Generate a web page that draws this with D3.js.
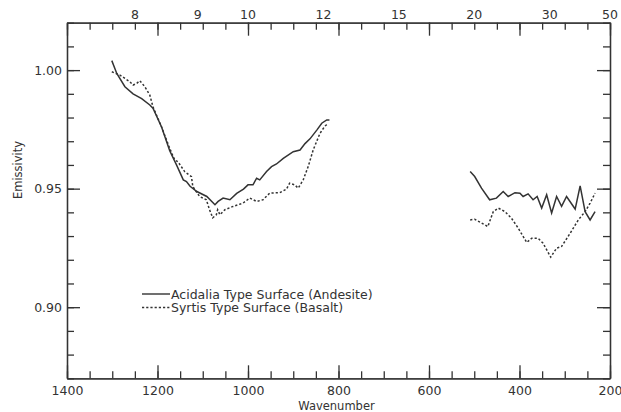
<!DOCTYPE html>
<html>
<head>
  <meta charset="utf-8">
  <title>Emissivity</title>
  <script src="https://d3js.org/d3.v7.min.js"></script>
  <style>
    body { margin: 0; background: #fff; }
    text { font-family: "DejaVu Sans", sans-serif; fill: #333; }
  </style>
</head>
<body>
<script>
const width = 621;
const height = 412;

// Acidalia (solid) - [wavenumber, emissivity]
const acidaliaTir = [[1301,1.004],[1290,0.9986],[1272,0.993],[1254,0.990],[1235,0.988],[1217,0.9853],[1210,0.9839],
  [1191,0.976],[1173,0.966],[1158,0.960],[1143,0.9537],[1136,0.953],[1128,0.951],[1113,0.9488],[1091,0.9467],
  [1073,0.9432],[1066,0.9446],[1055,0.946],[1040,0.9453],[1025,0.948],[1010,0.9498],[1000,0.9516],[989,0.9516],
  [981,0.9544],[974,0.9537],[959,0.9572],[948,0.9593],[937,0.9604],[922,0.9628],[900,0.9656],[885,0.9663],
  [874,0.969],[863,0.971],[848,0.9747],[837,0.9776],[826,0.979],[820,0.979]];
const acidaliaFar = [[509,0.9572],[499,0.9551],[484,0.9502],[466,0.9453],[451,0.946],[436,0.9488],[425,0.9467],
  [410,0.9483],[399,0.9481],[392,0.9467],[381,0.9478],[370,0.9453],[361,0.9467],[351,0.9418],[340,0.9474],
  [329,0.9397],[318,0.9467],[307,0.9425],[296,0.9467],[277,0.9414],[266,0.9512],[255,0.9403],[244,0.9368],[233,0.9403]];

// Syrtis (dotted)
const syrtisTir = [[1301,0.9993],[1283,0.9979],[1261,0.9951],[1254,0.9937],[1246,0.9944],[1239,0.9955],[1228,0.993],
  [1217,0.9895],[1210,0.9845],[1191,0.976],[1173,0.967],[1162,0.9621],[1155,0.9614],[1140,0.9572],[1125,0.9551],
  [1122,0.9509],[1107,0.9467],[1092,0.9453],[1085,0.9411],[1078,0.9377],[1070,0.939],[1067,0.9411],[1062,0.939],
  [1051,0.9411],[1033,0.9425],[1011,0.9439],[996,0.946],[981,0.9446],[967,0.9453],[952,0.9481],[930,0.9483],
  [915,0.9498],[908,0.9523],[897,0.9516],[889,0.9502],[878,0.9537],[867,0.9593],[856,0.9663],[841,0.9733],
  [830,0.9764],[825,0.9771]];
const syrtisFar = [[509,0.9368],[499,0.9371],[484,0.9355],[470,0.934],[458,0.9403],[447,0.9418],[432,0.9403],
  [418,0.9376],[403,0.9334],[384,0.9273],[373,0.9291],[359,0.9291],[348,0.927],[331,0.9211],[318,0.9249],
  [307,0.9256],[288,0.9312],[270,0.9368],[255,0.9403],[244,0.9439],[233,0.9481]];

const wavelengthLabels = [8, 9, 10, 12, 15, 20, 30, 50];
const yLabelTicks = [0.90, 0.95, 1.00];
const legendNames = ['Acidalia Type Surface (Andesite)', 'Syrtis Type Surface (Basalt)'];

const pLeft = 67, pRight = 610, pTop = 22.7, pBottom = 378.3;

const svg = d3.select('body').append('svg')
  .attr('width', width)
  .attr('height', height);

const x = d3.scaleLinear().domain([1400, 200]).range([pLeft, pRight]);
const y = d3.scaleLinear().domain([0.87, 1.02]).range([pBottom, pTop]);

const minorX = d3.range(200, 1401, 50);
const majorX = d3.range(200, 1401, 200);
const minorY = d3.range(87, 103).map(d => d / 100);

function styleAxis(g) {
  g.selectAll('path, line').attr('stroke', '#333').attr('stroke-width', 1.3);
  g.selectAll('text').attr('font-size', 12.5).attr('fill', '#333')
    .attr('font-family', '"DejaVu Sans", sans-serif');
}

// bottom
svg.append('g').attr('transform', `translate(0,${pBottom})`)
  .call(d3.axisBottom(x).tickValues(minorX).tickSize(-7).tickSizeOuter(0).tickFormat(''))
  .call(styleAxis);
svg.append('g').attr('transform', `translate(0,${pBottom})`)
  .call(d3.axisBottom(x).tickValues(majorX).tickSize(-13).tickSizeOuter(0).tickPadding(7.5).tickFormat(d3.format('d')))
  .call(styleAxis);

// top
svg.append('g').attr('transform', `translate(0,${pTop})`)
  .call(d3.axisTop(x).tickValues(minorX).tickSize(-7).tickSizeOuter(0).tickFormat(''))
  .call(styleAxis);
svg.append('g').attr('transform', `translate(0,${pTop})`)
  .call(d3.axisTop(x).tickValues(majorX).tickSize(-13).tickSizeOuter(0).tickFormat(''))
  .call(styleAxis);
svg.append('g')
  .selectAll('text')
  .data(wavelengthLabels)
  .join('text')
  .attr('x', d => x(10000 / d))
  .attr('y', pTop - 4)
  .attr('text-anchor', 'middle')
  .attr('font-size', 12.5)
  .text(d => d);

// left
svg.append('g').attr('transform', `translate(${pLeft},0)`)
  .call(d3.axisLeft(y).tickValues(minorY).tickSize(-7).tickSizeOuter(0).tickFormat(''))
  .call(styleAxis);
svg.append('g').attr('transform', `translate(${pLeft},0)`)
  .call(d3.axisLeft(y).tickValues(yLabelTicks).tickSize(-13).tickSizeOuter(0).tickPadding(5).tickFormat(d3.format('.2f')))
  .call(styleAxis);

// right
svg.append('g').attr('transform', `translate(${pRight},0)`)
  .call(d3.axisRight(y).tickValues(minorY).tickSize(-7).tickSizeOuter(0).tickFormat(''))
  .call(styleAxis);
svg.append('g').attr('transform', `translate(${pRight},0)`)
  .call(d3.axisRight(y).tickValues(yLabelTicks).tickSize(-13).tickSizeOuter(0).tickFormat(''))
  .call(styleAxis);

// titles
svg.append('text')
  .attr('x', (pLeft + pRight) / 2 - 2)
  .attr('y', 410)
  .attr('text-anchor', 'middle')
  .attr('font-size', 11.5)
  .text('Wavenumber');

svg.append('text')
  .attr('transform', 'translate(22,170) rotate(-90)')
  .attr('text-anchor', 'middle')
  .attr('font-size', 11.5)
  .text('Emissivity');

// curves
const line = d3.line().x(d => x(d[0])).y(d => y(d[1]));

const series = [
  { segs: [acidaliaTir, acidaliaFar], dash: null },
  { segs: [syrtisTir, syrtisFar], dash: '2.2,2' }
];

series.forEach(s => {
  s.segs.forEach(seg => {
    svg.append('path')
      .datum(seg)
      .attr('d', line)
      .attr('fill', 'none')
      .attr('stroke', '#333')
      .attr('stroke-width', 1.5)
      .attr('stroke-dasharray', s.dash);
  });
});

// legend
const legend = svg.append('g');
legendNames.forEach((name, i) => {
  const ly = 294 + i * 13.5;
  legend.append('line')
    .attr('x1', 142).attr('x2', 170)
    .attr('y1', ly).attr('y2', ly)
    .attr('stroke', '#333')
    .attr('stroke-width', 1.4)
    .attr('stroke-dasharray', i === 1 ? '2.2,2' : null);
  legend.append('text')
    .attr('x', 171)
    .attr('y', ly + 4.5)
    .attr('font-size', 12.5)
    .text(name);
});
</script>
</body>
</html>
